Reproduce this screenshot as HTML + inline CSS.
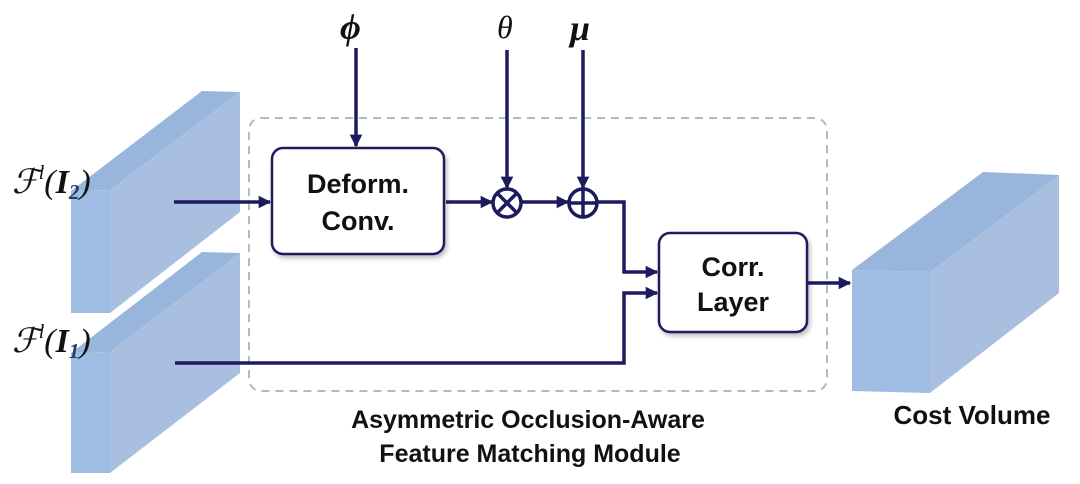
<!DOCTYPE html>
<html><head><meta charset="utf-8"><style>
html,body{margin:0;padding:0;background:#fff;}
svg{display:block;}
</style></head><body>
<svg width="1080" height="484" viewBox="0 0 1080 484" xmlns="http://www.w3.org/2000/svg">
<defs>
<marker id="ar" viewBox="0 0 10 10" refX="9" refY="5" markerWidth="3.6" markerHeight="3.6" orient="auto"><path d="M0,0 L10,5 L0,10 z" fill="#1e1a5e"/></marker>
<filter id="sh" x="-10%" y="-10%" width="130%" height="130%"><feDropShadow dx="2" dy="3" stdDeviation="2" flood-color="#000" flood-opacity="0.25"/></filter>
</defs>
<g>
<polygon points="71,191 202,91 240,92 110,190" fill="#98b6dc"/>
<polygon points="110,190 240,92 240,212 110,313" fill="#a9bfdf"/>
<polygon points="71,191 110,190 110,313 71,313" fill="#9fbde3"/>
<polygon points="71,353 202,252 240,253 110,352" fill="#98b6dc"/>
<polygon points="110,352 240,253 240,373 110,473" fill="#a9bfdf"/>
<polygon points="71,353 110,352 110,473 71,473" fill="#9fbde3"/>
<polygon points="852,270 983,172 1059,175 930,272" fill="#98b6dc"/>
<polygon points="930,272 1059,175 1059,293 930,393" fill="#a9bfdf"/>
<polygon points="852,270 930,272 930,393 852,391" fill="#9fbde3"/>
</g>
<rect x="249" y="118" width="578" height="273" rx="12" fill="none" stroke="#a8bccd" stroke-width="2" stroke-dasharray="8,6"/>
<g fill="#fff" stroke="#1e1a5e" stroke-width="2.5" filter="url(#sh)">
<rect x="272" y="148" width="172" height="106" rx="11"/>
<rect x="659" y="233" width="148" height="99" rx="11"/>
</g>
<g font-family="Liberation Sans, sans-serif" font-size="27" font-weight="bold" fill="#111" text-anchor="middle">
<text x="358" y="193">Deform.</text>
<text x="358" y="230">Conv.</text>
<text x="733" y="276">Corr.</text>
<text x="733" y="311">Layer</text>
<text x="972" y="424" font-size="26">Cost Volume</text>
<text x="528" y="428" font-size="25">Asymmetric Occlusion-Aware</text>
<text x="530" y="462" font-size="25">Feature Matching Module</text>
</g>
<g font-family="Liberation Serif, DejaVu Serif, serif" fill="#111">
<text x="340" y="39" font-size="36" font-weight="bold" font-style="italic">ϕ</text>
<text x="497" y="38" font-size="32" font-style="italic">θ</text>
<text x="570" y="40" font-size="36" font-weight="bold" font-style="italic">μ</text>
<text x="12" y="193" font-size="34" font-style="italic"><tspan font-family="DejaVu Serif, serif">ℱ</tspan><tspan font-size="20" dy="-14">l</tspan><tspan dy="14">(</tspan><tspan font-weight="bold">I</tspan><tspan font-size="21" font-weight="bold" dy="6" fill="#2a3a6a">2</tspan><tspan dy="-6">)</tspan></text>
<text x="12" y="352" font-size="34" font-style="italic"><tspan font-family="DejaVu Serif, serif">ℱ</tspan><tspan font-size="20" dy="-14">l</tspan><tspan dy="14">(</tspan><tspan font-weight="bold">I</tspan><tspan font-size="21" font-weight="bold" dy="6" fill="#2a3a6a">1</tspan><tspan dy="-6">)</tspan></text>
</g>
<g stroke="#1e1a5e" stroke-width="3.5" fill="none">
<line x1="356" y1="48" x2="356" y2="146" marker-end="url(#ar)"/>
<line x1="507" y1="50" x2="507" y2="188" marker-end="url(#ar)"/>
<line x1="583" y1="50" x2="583" y2="188" marker-end="url(#ar)"/>
<line x1="174" y1="202" x2="270" y2="202" marker-end="url(#ar)"/>
<line x1="446" y1="202" x2="492" y2="202" marker-end="url(#ar)"/>
<line x1="522" y1="202" x2="568" y2="202" marker-end="url(#ar)"/>
<polyline points="598,202 624,202 624,272 657,272" marker-end="url(#ar)"/>
<polyline points="175,363 624,363 624,293 657,293" marker-end="url(#ar)"/>
<line x1="808" y1="283" x2="850" y2="283" marker-end="url(#ar)"/>
<circle cx="507" cy="203" r="14" fill="#fff"/>
<line x1="497" y1="193" x2="517" y2="213"/><line x1="517" y1="193" x2="497" y2="213"/>
<circle cx="583" cy="203" r="14" fill="#fff"/>
<line x1="569" y1="203" x2="597" y2="203"/><line x1="583" y1="189" x2="583" y2="217"/>
</g>
</svg>
</body></html>
